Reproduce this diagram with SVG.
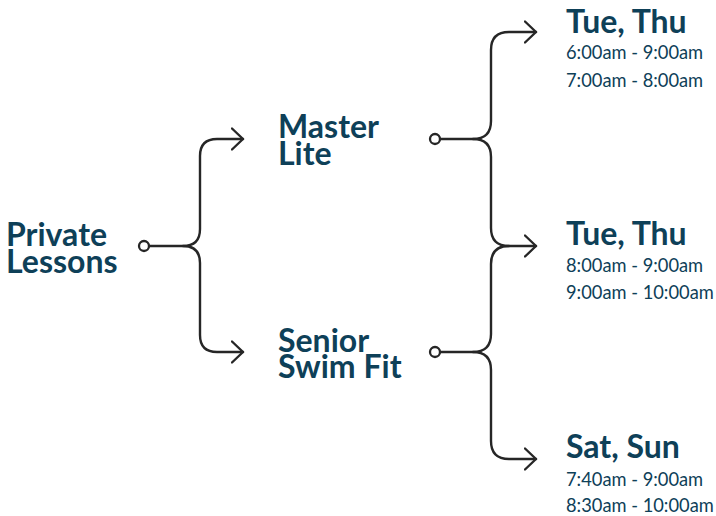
<svg xmlns="http://www.w3.org/2000/svg" width="716" height="516" viewBox="0 0 716 516">
  <style>
    .bg { fill: #ffffff; }
    .wire { fill: none; stroke: #262626; stroke-width: 2.4; stroke-linecap: round; stroke-linejoin: round; }
    .dot { fill: #ffffff; stroke: #262626; stroke-width: 2.3; }
    .head { fill: none; stroke: #262626; stroke-width: 2.4; stroke-linecap: round; stroke-linejoin: round; }
    .name { font-family: Lato, "Liberation Sans", sans-serif; font-weight: 700; font-size: 32px; fill: #0e4058; }
    .day { font-family: Lato, "Liberation Sans", sans-serif; font-weight: 700; font-size: 32px; fill: #0e4058; }
    .time { font-family: Lato, "Liberation Sans", sans-serif; font-weight: 400; font-size: 18.3px; fill: #0e4058; }
  </style>
  <defs>
    <marker id="chevron" viewBox="-12 -12 14 24" refX="0" refY="0" markerWidth="14" markerHeight="24" markerUnits="userSpaceOnUse" orient="auto">
      <path class="head" d="M-11,-10.5 L0,0 L-11,10.5"/>
    </marker>
  </defs>
  <rect class="bg" x="0" y="0" width="716" height="516"/>

  <g id="connectors">
    <!-- Private Lessons forks -->
    <path class="wire" marker-end="url(#chevron)" d="M149,246 H183 Q200,246 200,229 V156 Q200,139 217,139 H243"/>
    <path class="wire" marker-end="url(#chevron)" d="M183,246 Q200,246 200,263 V335 Q200,352 217,352 H243"/>
    <!-- Master Lite forks -->
    <path class="wire" marker-end="url(#chevron)" d="M440,139 H473 Q491,139 491,121 V50 Q491,32 509,32 H536"/>
    <path class="wire" marker-end="url(#chevron)" d="M473,139 Q491,139 491,157 V228 Q491,246 509,246 H536"/>
    <!-- Senior Swim Fit forks -->
    <path class="wire" d="M440,352 H473 Q491,352 491,334 V264 Q491,246 509,246"/>
    <path class="wire" marker-end="url(#chevron)" d="M473,352 Q491,352 491,370 V441 Q491,459 509,459 H536"/>
  </g>

  <g id="private-lessons">
    <circle class="dot" cx="144" cy="246" r="5"/>
    <text class="name" x="6" y="246">Private</text>
    <text class="name" x="6" y="273">Lessons</text>
  </g>

  <g id="master-lite">
    <circle class="dot" cx="435" cy="139" r="5"/>
    <text class="name" x="278" y="138">Master</text>
    <text class="name" x="278" y="165">Lite</text>
  </g>

  <g id="senior-swim-fit">
    <circle class="dot" cx="435" cy="352" r="5"/>
    <text class="name" x="278" y="352">Senior</text>
    <text class="name" x="278" y="378">Swim Fit</text>
  </g>

  <g id="slot-tue-thu-early">
    <text class="day" x="566" y="33">Tue, Thu</text>
    <text class="time" x="566" y="59">6:00am - 9:00am</text>
    <text class="time" x="566" y="87">7:00am - 8:00am</text>
  </g>

  <g id="slot-tue-thu-late">
    <text class="day" x="566" y="245">Tue, Thu</text>
    <text class="time" x="566" y="272">8:00am - 9:00am</text>
    <text class="time" x="566" y="299">9:00am - 10:00am</text>
  </g>

  <g id="slot-sat-sun">
    <text class="day" x="566" y="458">Sat, Sun</text>
    <text class="time" x="566" y="486">7:40am - 9:00am</text>
    <text class="time" x="566" y="512">8:30am - 10:00am</text>
  </g>
</svg>
